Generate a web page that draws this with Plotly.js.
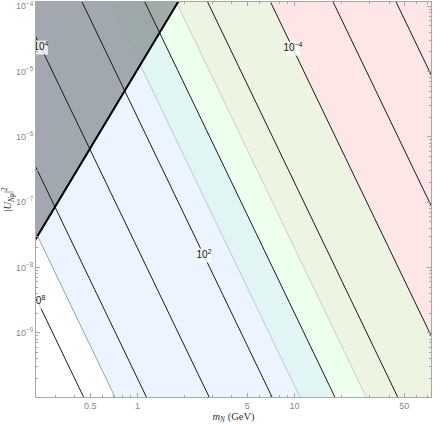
<!DOCTYPE html>
<html>
<head>
<meta charset="utf-8">
<script src="https://cdn.plot.ly/plotly-3.0.1.min.js"></script>
<style>html,body{margin:0;padding:0;background:#fff;}#chart{width:433px;height:424px;}</style>
</head>
<body>
<div id="chart"></div>
<script>
// ---- data ----
// contour lines (straight in log-log): mass at |U|^2 = 1e-10 and at |U|^2 = 2e-4
const contourExp = [8, 6, 4, 2, 0, -2, -4, -6, -8];
const contourMassBottom = [0.457, 1.148, 2.88, 7.24, 18.2, 45.7, 115, 288, 724];
const contourMassTop = [0.0251, 0.0631, 0.158, 0.398, 1.0, 2.51, 6.31, 15.8, 39.8];
const U2Bottom = 1e-10;
const U2Top = 2e-4;

// shaded bands: [left edge, right edge] masses at bottom and top
const blueBandBottom = [0.724, 18.2];
const blueBandTop = [0.0398, 1.0];
const greenBandBottom = [10.9, 115];
const greenBandTop = [0.60, 6.31];
const redBandBottom = [28.8, 1000];
const redBandTop = [1.585, 1000];

// excluded (gray) region boundary, |U|^2 ~ m^4
const grayBoundaryM = [0.2, 2.5];
const grayBoundaryU2 = [1.7e-8, 4.2e-4];

// contour labels
const labelExp = [8, 4, 2, -4];
const labelMass = [0.232, 0.243, 2.65, 9.78];

// axis ticks
const xTickVals = [0.5, 1, 5, 10, 50];
const xTickText = ['0.5', '1', '5', '10', '50'];
const xMinorVals = [0.3, 0.4, 0.6, 0.7, 0.8, 0.9, 2, 3, 4, 6, 7, 8, 9, 20, 30, 40, 60, 70];
const yTickExp = [-9, -8, -7, -6, -5, -4];

// ---- helpers ----
const expLabel = e => '10<sup>' + String(e).replace('-', '−') + '</sup>';
const L = Math.log10;

function band(bot, top, color) {
  return {
    x: [top[0], bot[0], bot[1], top[1], top[0]],
    y: [U2Top, U2Bottom, U2Bottom, U2Top, U2Top],
    mode: 'lines', fill: 'toself', fillcolor: color,
    line: {width: 0}, hoverinfo: 'skip', showlegend: false
  };
}
function edge(mb, mt, color, w) {
  return {x: [mt, mb], y: [U2Top, U2Bottom], mode: 'lines',
    line: {color: color, width: w}, hoverinfo: 'skip', showlegend: false};
}

const traces = [];
traces.push(band(redBandBottom, redBandTop, 'rgba(255,150,150,0.24)'));
traces.push(band(greenBandBottom, greenBandTop, 'rgba(222,255,222,0.55)'));
traces.push(band(blueBandBottom, blueBandTop, 'rgba(215,234,255,0.47)'));
// gray excluded region
traces.push({
  x: [grayBoundaryM[0], grayBoundaryM[1], grayBoundaryM[0], grayBoundaryM[0]],
  y: [grayBoundaryU2[0], grayBoundaryU2[1], grayBoundaryU2[1], grayBoundaryU2[0]],
  mode: 'lines', fill: 'toself', fillcolor: 'rgba(100,104,110,0.55)',
  line: {width: 0}, hoverinfo: 'skip', showlegend: false
});
// band edges (light)
traces.push(edge(blueBandBottom[0], blueBandTop[0], 'rgba(120,120,120,0.7)', 1));
traces.push(edge(greenBandBottom[0], greenBandTop[0], 'rgba(150,165,175,0.55)', 1));
traces.push(edge(redBandBottom[0], redBandTop[0], 'rgba(160,170,150,0.5)', 1));
// contour lines
for (let i = 0; i < contourExp.length; i++) {
  traces.push(edge(contourMassBottom[i], contourMassTop[i], '#1a1a1a', 1));
}
// thick boundary
traces.push({x: grayBoundaryM, y: grayBoundaryU2, mode: 'lines',
  line: {color: '#000', width: 2}, hoverinfo: 'skip', showlegend: false});

// labels on contours
const lx = [], ly = [], lt = [];
labelExp.forEach((e, k) => {
  const i = contourExp.indexOf(e);
  const m = labelMass[k];
  const t = (L(m) - L(contourMassTop[i])) / (L(contourMassBottom[i]) - L(contourMassTop[i]));
  const lu = L(U2Top) + t * (L(U2Bottom) - L(U2Top));
  lx.push(m); ly.push(Math.pow(10, lu)); lt.push(expLabel(e));
});
traces.push({x: lx, y: ly, text: lt, mode: 'markers+text', textposition: 'middle center',
  marker: {symbol: 'square', size: 14, color: 'rgba(255,255,255,0.8)', line: {width: 0}},
  textfont: {family: 'Liberation Sans, Arial, sans-serif', size: 10, color: '#111'},
  hoverinfo: 'skip', showlegend: false, cliponaxis: true});

const yMinor = [];
for (let d = -10; d <= -4; d++) for (let k = 2; k <= 9; k++) yMinor.push(k * Math.pow(10, d));

const tickFont = {family: 'Liberation Sans, Arial, sans-serif', size: 9, color: '#888'};
const layout = {
  width: 433, height: 424,
  margin: {l: 36, r: 2, t: 2, b: 27},
  paper_bgcolor: '#fff', plot_bgcolor: '#fff',
  showlegend: false,
  xaxis: {
    type: 'log', range: [L(0.226), L(74)],
    showgrid: false, zeroline: false,
    showline: true, linecolor: '#a8a8a8', linewidth: 1, mirror: 'ticks',
    ticks: 'inside', ticklen: 4, tickcolor: '#a8a8a8', tickwidth: 1,
    tickmode: 'array', tickvals: xTickVals, ticktext: xTickText,
    tickfont: tickFont, ticklabeloverflow: 'allow',
    minor: {tickmode: 'array', tickvals: xMinorVals, ticks: 'inside', ticklen: 2, tickcolor: '#a8a8a8', showgrid: false},
    title: {text: '<i>m</i><sub><i>N</i></sub> (GeV)', font: {family: 'Liberation Serif, Times New Roman, serif', size: 10.5, color: '#333'}, standoff: 4}
  },
  yaxis: {
    type: 'log', range: [-9.985, -3.935],
    showgrid: false, zeroline: false,
    showline: true, linecolor: '#a8a8a8', linewidth: 1, mirror: 'ticks',
    ticks: 'inside', ticklen: 4, tickcolor: '#a8a8a8', tickwidth: 1,
    tickmode: 'array', tickvals: yTickExp.map(e => Math.pow(10, e)), ticktext: yTickExp.map(expLabel),
    tickfont: tickFont, ticklabeloverflow: 'allow',
    minor: {tickmode: 'array', tickvals: yMinor, ticks: 'inside', ticklen: 2, tickcolor: '#a8a8a8', showgrid: false},
    title: {text: '|<i>U</i><sub><i>N</i>μ</sub>|<sup>2</sup>', font: {family: 'Liberation Serif, Times New Roman, serif', size: 10.5, color: '#333'}, standoff: 2}
  }
};
Plotly.newPlot('chart', traces, layout, {displayModeBar: false, staticPlot: true});
</script>
</body>
</html>
